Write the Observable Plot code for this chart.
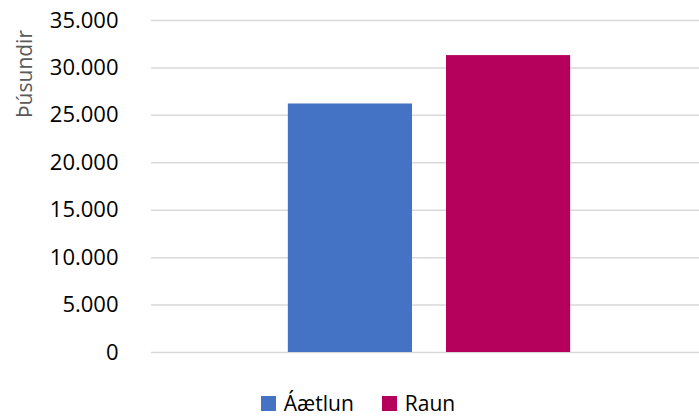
<!DOCTYPE html>
<html>
<head>
<meta charset="utf-8">
<script src="https://cdn.jsdelivr.net/npm/d3@7"></script>
<script src="https://cdn.jsdelivr.net/npm/@observablehq/plot@0.6"></script>
<style>
  body { margin: 0; background: #fff; font-family: "Open Sans", sans-serif; }
  #wrap { position: relative; width: 699px; }
  #ylabel { position: absolute; left: 24px; top: 74px; transform: translate(-50%, -50%) rotate(-90deg);
            font-size: 21px; color: #595959; white-space: nowrap; line-height: 1; }
  #legend { display: flex; justify-content: center; align-items: center; gap: 28px;
            margin-top: 20px; padding-left: 17px; font-size: 21px; color: #000; line-height: 1.1; }
  #legend .item { display: flex; align-items: center; gap: 8px; }
  #legend .sw { width: 15px; height: 15px; display: inline-block; }
</style>
</head>
<body>
<div id="wrap">
  <div id="chart"></div>
  <div id="ylabel"></div>
  <div id="legend"></div>
</div>
<script>
const series = ["Áætlun", "Raun"];
const values = [26200, 31300];
const colors = ["#4472c4", "#b5015b"];
const yTicks = [0, 5000, 10000, 15000, 20000, 25000, 30000, 35000];
const yTitle = "Þúsundir";

const data = series.map((s, i) => ({series: s, value: values[i]}));
const fmt = d3.formatLocale({decimal: ",", thousands: ".", grouping: [3], currency: ["", " kr"]}).format(",");

const chart = Plot.plot({
  width: 699,
  height: 372,
  marginLeft: 151,
  marginRight: 0,
  marginTop: 20,
  marginBottom: 20,
  style: {fontFamily: "Open Sans, sans-serif", fontSize: "22px", color: "#000", background: "#fff"},
  x: {domain: series, paddingInner: 0.215, paddingOuter: 0.84, align: 0.515, round: false, axis: null},
  y: {domain: [0, 35000], ticks: yTicks, tickFormat: fmt, tickSize: 0, tickPadding: 33, label: null},
  color: {domain: series, range: colors},
  marks: [
    Plot.gridY(yTicks, {stroke: "#d9d9d9", strokeOpacity: 1, strokeWidth: 1.5}),
    Plot.barY(data, {x: "series", y: "value", fill: "series"})
  ]
});
document.getElementById("chart").appendChild(chart);
document.getElementById("ylabel").textContent = yTitle;

const legend = document.getElementById("legend");
series.forEach((s, i) => {
  const item = document.createElement("div");
  item.className = "item";
  const sw = document.createElement("span");
  sw.className = "sw";
  sw.style.background = colors[i];
  const t = document.createElement("span");
  t.textContent = s;
  item.appendChild(sw);
  item.appendChild(t);
  legend.appendChild(item);
});
</script>
</body>
</html>
